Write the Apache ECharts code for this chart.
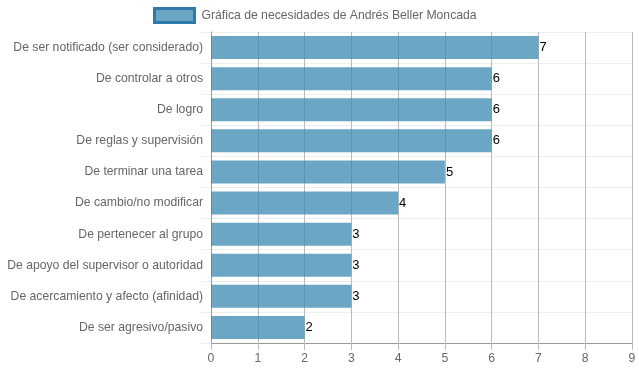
<!DOCTYPE html>
<html>
<head>
<meta charset="utf-8">
<script src="https://cdn.jsdelivr.net/npm/echarts@6/dist/echarts.min.js"></script>
<style>html,body{margin:0;padding:0;background:#fff;}#c{width:639px;height:372px;}</style>
</head>
<body>
<div id="c"></div>
<script>
const categories = [
  "De ser notificado (ser considerado)",
  "De controlar a otros",
  "De logro",
  "De reglas y supervisión",
  "De terminar una tarea",
  "De cambio/no modificar",
  "De pertenecer al grupo",
  "De apoyo del supervisor o autoridad",
  "De acercamiento y afecto (afinidad)",
  "De ser agresivo/pasivo"
];
const values = [7, 6, 6, 6, 5, 4, 3, 3, 3, 2];
const seriesName = "Gráfica de necesidades de Andrés Beller Moncada";
const xTicks = [0, 1, 2, 3, 4, 5, 6, 7, 8, 9];

const chart = echarts.init(document.getElementById('c'), null, {renderer: 'canvas'});
const font = 'Liberation Sans, Arial, Helvetica, sans-serif';
chart.setOption({
  animation: false,
  textStyle: {fontFamily: font},
  legend: {
    top: 7, left: 153, padding: 0,
    itemWidth: 40, itemHeight: 14, itemGap: 10,
    textStyle: {color: '#666', fontSize: 12.2, fontFamily: font, padding: [0, 0, 0, 2]},
    data: [{name: seriesName, icon: 'rect'}],
    itemStyle: {color: 'rgba(58,136,176,0.75)', borderColor: '#2e7aa8', borderWidth: 3}
  },
  grid: {left: 211, right: 7, top: 32, bottom: 29, containLabel: false},
  xAxis: {
    type: 'value', min: xTicks[0], max: xTicks[xTicks.length - 1], interval: 1,
    axisLine: {show: true, lineStyle: {color: '#999'}},
    axisTick: {show: true, length: 7, lineStyle: {color: '#bbb'}},
    axisLabel: {color: '#666', fontSize: 12.2, margin: 10, fontFamily: font},
    splitLine: {show: true, lineStyle: {color: '#bbb', width: 1}}
  },
  yAxis: {
    type: 'category', inverse: true, data: categories,
    axisLine: {show: true, lineStyle: {color: '#999'}},
    axisTick: {show: true, length: 10, lineStyle: {color: '#eee'}},
    axisLabel: {color: '#666', fontSize: 12.2, margin: 8, fontFamily: font},
    splitLine: {show: true, lineStyle: {color: '#eee', width: 1}}
  },
  series: [{
    name: seriesName, type: 'bar', data: values,
    barCategoryGap: '26%',
    itemStyle: {color: 'rgba(58,136,176,0.75)'},
    label: {show: true, position: 'right', distance: 1, color: '#000', fontSize: 13, fontFamily: font}
  }]
});
</script>
</body>
</html>
